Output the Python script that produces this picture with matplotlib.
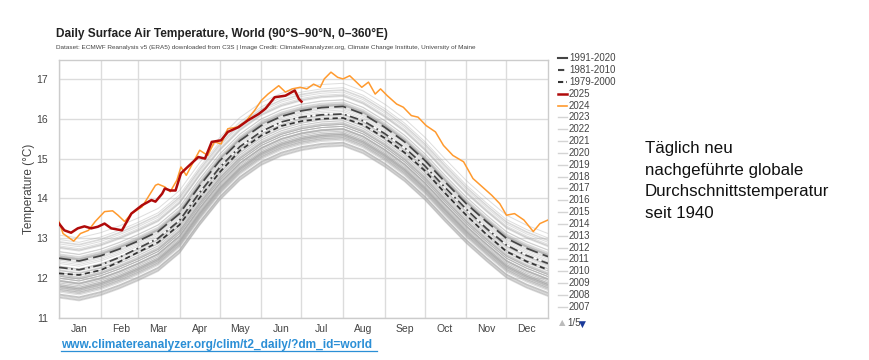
import numpy as np
import matplotlib
matplotlib.use('Agg')
from matplotlib import pyplot as plt
from matplotlib.lines import Line2D

plt.rcParams['font.family'] = ['Liberation Sans', 'DejaVu Sans']

# day-of-year knots used for the climatology curves
clim_days = [0, 15, 31, 45, 59, 74, 90, 105, 120, 135, 151, 166, 181,
             196, 212, 227, 243, 258, 273, 288, 304, 319, 334, 349, 365]
clim_9120 = [12.50, 12.43, 12.56, 12.73, 12.93, 13.17, 13.62, 14.32, 14.95, 15.45, 15.83, 16.06, 16.20,
             16.28, 16.31, 16.12, 15.79, 15.42, 14.96, 14.42, 13.87, 13.42, 13.00, 12.75, 12.54]
clim_8110 = [12.27, 12.21, 12.33, 12.52, 12.75, 13.00, 13.45, 14.15, 14.78, 15.30, 15.68, 15.92, 16.04,
             16.10, 16.12, 15.95, 15.63, 15.27, 14.82, 14.28, 13.73, 13.25, 12.83, 12.57, 12.37]
clim_7900 = [12.12, 12.08, 12.20, 12.41, 12.65, 12.90, 13.34, 14.02, 14.66, 15.20, 15.58, 15.82, 15.94,
             16.00, 16.02, 15.85, 15.52, 15.15, 14.70, 14.14, 13.58, 13.10, 12.67, 12.42, 12.21]

# 2024 (orange)
days_2024 = [0, 3, 8, 11, 16, 22, 27, 34, 40, 44, 49, 54, 62, 72, 74, 79, 83, 88, 91, 95, 101, 105,
             111, 116, 121, 126, 133, 139, 146, 151, 156, 164, 169, 174, 180, 185, 190, 195, 198, 203,
             208, 212, 217, 222, 226, 231, 236, 240, 245, 252, 257, 263, 268, 274, 281, 287, 294, 302,
             309, 316, 323, 329, 334, 340, 347, 354, 359, 365]
temp_2024 = [13.42, 13.12, 13.00, 12.93, 13.12, 13.20, 13.42, 13.67, 13.69, 13.58, 13.42, 13.62, 13.79,
             14.33, 14.36, 14.29, 14.17, 14.46, 14.79, 14.58, 14.96, 15.21, 15.08, 15.42, 15.37, 15.75,
             15.79, 15.92, 16.21, 16.46, 16.62, 16.83, 16.67, 16.75, 16.79, 16.75, 16.87, 16.79, 17.00,
             17.17, 17.04, 17.00, 17.08, 16.92, 16.79, 16.92, 16.62, 16.75, 16.58, 16.37, 16.29, 16.08,
             16.04, 15.83, 15.67, 15.33, 15.08, 14.92, 14.50, 14.29, 14.08, 13.87, 13.58, 13.62, 13.46,
             13.17, 13.37, 13.46]

# 2025 (dark red)
days_2025 = [0, 4, 9, 14, 19, 24, 29, 34, 39, 47, 54, 62, 69, 72, 77, 79, 83, 87, 91, 96, 104, 109,
             114, 121, 126, 134, 141, 149, 154, 161, 169, 176, 179, 181]
temp_2025 = [13.37, 13.20, 13.14, 13.25, 13.30, 13.25, 13.29, 13.37, 13.25, 13.20, 13.62, 13.83, 13.96,
             13.92, 14.12, 14.25, 14.20, 14.20, 14.63, 14.79, 15.04, 15.00, 15.42, 15.46, 15.67, 15.79,
             15.96, 16.12, 16.25, 16.54, 16.58, 16.71, 16.50, 16.43]

# 1940-2023: offset of each year from the 1991-2020 curve
grey_years = list(range(1940, 2024))
grey_offset = [-0.50, -0.45, -0.58, -0.55, -0.42, -0.56, -0.78, -0.70, -0.75, -0.82,
               -0.98, -0.75, -0.70, -0.62, -0.90, -0.94, -1.00, -0.70, -0.66, -0.73,
               -0.78, -0.70, -0.73, -0.68, -0.98, -0.92, -0.80, -0.78, -0.85, -0.66,
               -0.73, -0.90, -0.70, -0.56, -0.92, -0.82, -0.96, -0.56, -0.66, -0.50,
               -0.45, -0.42, -0.58, -0.40, -0.58, -0.62, -0.50, -0.36, -0.31, -0.45,
               -0.25, -0.29, -0.50, -0.45, -0.36, -0.20, -0.31, -0.13, 0.06, -0.22,
               -0.20, -0.05, 0.02, 0.03, -0.02, 0.09, 0.04, 0.05, -0.09, 0.05,
               0.17, 0.02, 0.07, 0.11, 0.16, 0.31, 0.47, 0.36, 0.27, 0.40,
               0.42, 0.25, 0.28, 0.58]

month_starts = [0, 31, 59, 90, 120, 151, 181, 212, 243, 273, 304, 334]
month_names = ['Jan', 'Feb', 'Mar', 'Apr', 'May', 'Jun', 'Jul', 'Aug', 'Sep', 'Oct', 'Nov', 'Dec']
legend_labels = ['1991-2020', '1981-2010', '1979-2000', '2025', '2024'] + [str(y) for y in range(2023, 2006, -1)]

fig = plt.figure(figsize=(8.7, 3.6), dpi=100)
ax = fig.add_axes([59/870, 1-318/360, 489/870, 258/360])

base = np.array(clim_9120)
for yr, off in zip(grey_years, grey_offset):
    ax.plot(clim_days, base + off, color='#a8a8a8', lw=0.7, alpha=0.38, zorder=2)

ax.plot(clim_days, clim_9120, color='#444444', lw=1.25, dashes=(7, 3), zorder=4)
ax.plot(clim_days, clim_8110, color='#444444', lw=1.25, dashes=(5, 2, 1, 2), zorder=4)
ax.plot(clim_days, clim_7900, color='#333333', lw=1.25, dashes=(3, 2), zorder=4)
ax.plot(days_2024, temp_2024, color='#ff9a2e', lw=1.1, zorder=5)
ax.plot(days_2025, temp_2025, color='#b00a0a', lw=1.8, zorder=6)

ax.set_xlim(0, 365)
ax.set_ylim(11, 17.475)
ax.set_xticks(month_starts)
ax.set_xticklabels([])
ax.set_xticks([m + 15 for m in month_starts], minor=True)
ax.set_xticklabels(month_names, minor=True)
ax.set_yticks(range(11, 18))
ax.tick_params(axis='x', which='both', length=0, labelsize=7.5, colors='#444444', pad=4)
ax.tick_params(axis='y', length=0, labelsize=7.5, colors='#444444', pad=8)
ax.grid(True, which='major', color='#dcdcdc', lw=1, zorder=0)
for s in ax.spines.values():
    s.set_color('#cccccc')
    s.set_linewidth(1)
ax.set_ylabel('Temperature (°C)', fontsize=8.5, color='#444444', labelpad=1)

# title and credits
fig.text(56/870, 1-34/360, 'Daily Surface Air Temperature, World (90°S\u201390°N, 0\u2013360°E)',
         fontsize=8.6, fontweight='bold', color='#222222', va='center')
fig.text(56/870, 1-47/360, 'Dataset: ECMWF Reanalysis v5 (ERA5) downloaded from C3S | Image Credit: '
         'ClimateReanalyzer.org, Climate Change Institute, University of Maine',
         fontsize=4.6, color='#444444', va='center')

# legend on the right of the plot
for i, lab in enumerate(legend_labels):
    yy = 1 - (58.3 + i*11.83)/360
    if i == 0:
        kw = dict(color='#444444', lw=1.5)
    elif i == 1:
        kw = dict(color='#444444', lw=1.5, dashes=(3, 1.5, 1, 1.5))
    elif i == 2:
        kw = dict(color='#333333', lw=1.5, dashes=(2.5, 1.5))
    elif i == 3:
        kw = dict(color='#b00a0a', lw=1.8)
    elif i == 4:
        kw = dict(color='#ff9a2e', lw=1.2)
    else:
        kw = dict(color='#d4d4d4', lw=1.0)
    fig.add_artist(Line2D([558/870, 567/870], [yy, yy], transform=fig.transFigure, **kw))
    fig.text(569/870, yy, lab, fontsize=7, color='#444444', va='center')
fig.text(559/870, 1-323/360, '\u25b2', fontsize=6, color='#bbbbbb', va='center', family=['DejaVu Sans'])
fig.text(567/870, 1-323/360, '1/5', fontsize=7, color='#444444', va='center')
fig.text(579/870, 1-324/360, '\u25bc', fontsize=6.5, color='#1a3a9a', va='center', family=['DejaVu Sans'])

# link below the chart
fig.text(61/870, 1-345/360, 'www.climatereanalyzer.org/clim/t2_daily/?dm_id=world',
         fontsize=8.6, fontweight='bold', color='#2b8fd6', va='center')
fig.add_artist(Line2D([61/870, 377/870], [1-350.5/360, 1-350.5/360], transform=fig.transFigure,
                      color='#2b8fd6', lw=0.9))

# annotation text
fig.text(645/870, 1-181/360, 'Täglich neu\nnachgeführte globale\nDurchschnittstemperatur\nseit 1940',
         fontsize=12.2, color='#111111', va='center', linespacing=1.55)

fig.savefig('out.png', dpi=100)
